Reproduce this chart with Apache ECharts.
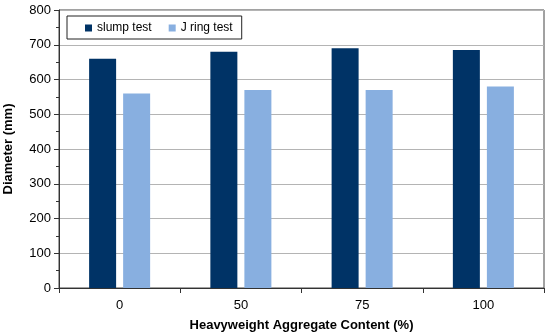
<!DOCTYPE html>
<html>
<head>
<meta charset="utf-8">
<script src="https://cdn.jsdelivr.net/npm/echarts@6/dist/echarts.min.js"></script>
<style>html,body{margin:0;padding:0;background:#fff;}#c{width:550px;height:335px;}</style>
</head>
<body>
<div id="c"></div>
<script>
const categories = ['0', '50', '75', '100'];
const slumpTest = [660, 680, 690, 685];
const jRingTest = [560, 570, 570, 580];
const yTicks = [0, 100, 200, 300, 400, 500, 600, 700, 800];

const chart = echarts.init(document.getElementById('c'), null, {renderer: 'canvas'});
const font = 'Liberation Sans, Arial, sans-serif';
chart.setOption({
  animation: false,
  textStyle: {fontFamily: font},
  grid: {left: 59, right: 6, top: 10, bottom: 47, show: true, borderColor: '#444', borderWidth: 1, containLabel: false, outerBoundsMode: 'none'},
  legend: {
    left: 67, top: 16, padding: [6, 9, 5, 18],
    borderColor: '#222', borderWidth: 1,
    icon: 'rect', itemWidth: 7, itemHeight: 7, itemGap: 17,
    textStyle: {fontFamily: font, fontSize: 12, color: '#000'},
    data: ['slump test', 'J ring test']
  },
  xAxis: {
    type: 'category', data: categories,
    name: 'Heavyweight Aggregate Content (%)', nameLocation: 'middle', nameGap: 31,
    nameTextStyle: {fontFamily: font, fontSize: 13, fontWeight: 'bold', color: '#000'},
    axisLine: {lineStyle: {color: '#333', width: 1}},
    axisTick: {show: true, length: 5, lineStyle: {color: '#333'}},
    axisLabel: {fontFamily: font, fontSize: 13, color: '#000', margin: 11},
    splitLine: {show: false}
  },
  yAxis: {
    type: 'value', min: yTicks[0], max: yTicks[yTicks.length - 1], interval: 100,
    name: 'Diameter (mm)', nameLocation: 'middle', nameGap: 44,
    nameTextStyle: {fontFamily: font, fontSize: 13, fontWeight: 'bold', color: '#000'},
    axisLine: {show: true, lineStyle: {color: '#333', width: 1}},
    axisTick: {show: true, length: 5, lineStyle: {color: '#333'}},
    minorTick: {show: true, splitNumber: 2, length: 3, lineStyle: {color: '#333'}},
    axisLabel: {fontFamily: font, fontSize: 13, color: '#000', margin: 8},
    splitLine: {show: true, lineStyle: {color: '#b4b4b4', width: 1}}
  },
  series: [
    {name: 'slump test', type: 'bar', data: slumpTest, barWidth: 27, barGap: '26%', itemStyle: {color: '#003366'}},
    {name: 'J ring test', type: 'bar', data: jRingTest, barWidth: 27, barGap: '26%', itemStyle: {color: '#88AFE0'}}
  ]
});
</script>
</body>
</html>
